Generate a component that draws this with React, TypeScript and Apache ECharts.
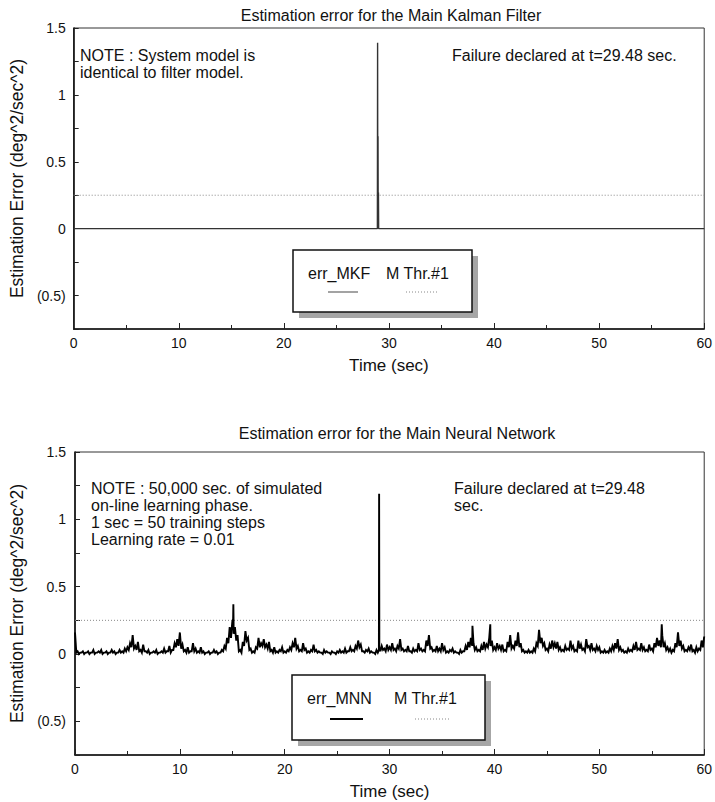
import React, { useEffect, useRef } from "react";
import * as echarts from "echarts";

// ---------- texts ----------
const TOP_TITLE = "Estimation error for the Main Kalman Filter";
const BOTTOM_TITLE = "Estimation error for the Main Neural Network";
const Y_NAME = "Estimation Error (deg^2/sec^2)";
const X_NAME = "Time (sec)";
const TOP_NOTE = ["NOTE : System model is", "identical to filter model."];
const TOP_FAIL = ["Failure declared at t=29.48 sec."];
const BOTTOM_NOTE = [
  "NOTE : 50,000 sec. of simulated",
  "on-line learning phase.",
  "1 sec = 50 training steps",
  "Learning rate = 0.01",
];
const BOTTOM_FAIL = ["Failure declared at t=29.48", "sec."];
const TOP_SERIES = "err_MKF";
const BOTTOM_SERIES = "err_MNN";
const THR_SERIES = "M Thr.#1";

// ---------- axes ----------
const X_MIN = 0;
const X_MAX = 60;
const X_INTERVAL = 10;
const Y_MIN = -0.75;
const Y_MAX = 1.5;
const Y_LABEL_VALUES = [-0.5, 0, 0.5, 1, 1.5];
const Y_TICK_VALUES = [-0.75, -0.5, -0.25, 0, 0.25, 0.5, 0.75, 1, 1.25, 1.5];

// ---------- data ----------
const THRESHOLD = 0.25;
const thrTimes = [0, 60];

// Main Kalman filter error: zero except at the failure spike
const mkfTimes = [0, 28.9, 28.92, 28.94, 28.96, 28.98, 29.0, 29.02, 60];
const mkfValues = [0, 0, 1.39, 0, 0.69, 0, 0.27, 0, 0];

// Main neural network error: local peaks sampled every 0.25 s from t = 0
const NN_START = 0;
const NN_STEP = 0.25;
const nnPeaks = [
  0.16, 0.02, 0.01, 0.02, 0.01, 0.02, 0.01, 0.03, 0.01, 0.02, 0.03, 0.01, 0.02, 0.01, 0.03, 0.02, 0.01, 0.03, 0.02, 0.04,
  0.05, 0.08, 0.14, 0.06, 0.09, 0.03, 0.07, 0.02, 0.03, 0.01, 0.02, 0.03, 0.01, 0.02, 0.04, 0.02, 0.06, 0.03, 0.08, 0.11,
  0.16, 0.07, 0.03, 0.05, 0.02, 0.08, 0.04, 0.02, 0.05, 0.02, 0.01, 0.02, 0.01, 0.03, 0.02, 0.01, 0.03, 0.06, 0.12, 0.2,
  0.24, 0.2, 0.14, 0.03, 0.09, 0.17, 0.12, 0.04, 0.02, 0.05, 0.12, 0.08, 0.11, 0.07, 0.09, 0.03, 0.05, 0.02, 0.03, 0.05,
  0.02, 0.03, 0.05, 0.08, 0.12, 0.06, 0.03, 0.08, 0.04, 0.02, 0.03, 0.07, 0.03, 0.02, 0.01, 0.03, 0.02, 0.01, 0.02, 0.01,
  0.02, 0.03, 0.02, 0.04, 0.02, 0.05, 0.03, 0.06, 0.1, 0.07, 0.02, 0.03, 0.04, 0.02, 0.01, 0.03, 0.03, 0.06, 0.04, 0.07,
  0.05, 0.08, 0.04, 0.06, 0.11, 0.04, 0.03, 0.06, 0.02, 0.04, 0.03, 0.08, 0.04, 0.03, 0.1, 0.14, 0.05, 0.03, 0.06, 0.04,
  0.08, 0.05, 0.02, 0.03, 0.04, 0.02, 0.01, 0.03, 0.02, 0.06, 0.09, 0.12, 0.08, 0.05, 0.03, 0.06, 0.09, 0.07, 0.12, 0.1,
  0.05, 0.08, 0.06, 0.07, 0.03, 0.09, 0.14, 0.06, 0.1, 0.16, 0.08, 0.03, 0.02, 0.03, 0.02, 0.04, 0.08, 0.18, 0.12, 0.08,
  0.04, 0.07, 0.1, 0.08, 0.09, 0.05, 0.03, 0.06, 0.04, 0.1, 0.06, 0.03, 0.1, 0.07, 0.04, 0.11, 0.06, 0.08, 0.04, 0.06,
  0.05, 0.02, 0.03, 0.02, 0.04, 0.06, 0.08, 0.11, 0.05, 0.03, 0.02, 0.04, 0.03, 0.06, 0.09, 0.04, 0.08, 0.05, 0.03, 0.07,
  0.04, 0.08, 0.12, 0.1, 0.14, 0.08, 0.05, 0.04, 0.03, 0.08, 0.16, 0.1, 0.06, 0.03, 0.05, 0.07, 0.03, 0.05, 0.04, 0.1,
  0.13,
];
// local troughs, half a step after each peak (t = 0.125, 0.375, ...)
const nnTroughs = [
  0.01, 0, 0.01, 0, 0.01, 0, 0.01, 0, 0.01, 0.01, 0, 0.01, 0, 0.01, 0.01, 0, 0.01, 0.01, 0.01, 0.02,
  0.03, 0.05, 0.04, 0.03, 0.02, 0.01, 0.02, 0.01, 0, 0.01, 0.01, 0, 0.01, 0.01, 0.01, 0.02, 0.01, 0.03, 0.05, 0.06,
  0.04, 0.02, 0.01, 0.01, 0.02, 0.02, 0.01, 0.01, 0.01, 0, 0.01, 0, 0.01, 0.01, 0, 0.01, 0.02, 0.04, 0.08, 0.12,
  0.15, 0.1, 0.02, 0.01, 0.06, 0.1, 0.03, 0.01, 0.01, 0.04, 0.05, 0.06, 0.05, 0.04, 0.02, 0.01, 0.01, 0.01, 0.02, 0.01,
  0.01, 0.02, 0.03, 0.05, 0.04, 0.02, 0.02, 0.03, 0.01, 0.01, 0.02, 0.02, 0.01, 0.01, 0, 0.01, 0.01, 0, 0.01, 0,
  0.01, 0.01, 0.01, 0.01, 0.02, 0.02, 0.02, 0.04, 0.05, 0.02, 0.01, 0.02, 0.01, 0.01, 0, 0.01, 0.02, 0.03, 0.02, 0.03,
  0.03, 0.03, 0.02, 0.04, 0.03, 0.02, 0.02, 0.02, 0.01, 0.02, 0.02, 0.03, 0.02, 0.02, 0.06, 0.04, 0.02, 0.02, 0.02, 0.02,
  0.03, 0.01, 0.01, 0.02, 0.01, 0.01, 0, 0.01, 0.02, 0.03, 0.05, 0.06, 0.03, 0.02, 0.02, 0.03, 0.04, 0.05, 0.06, 0.03,
  0.03, 0.04, 0.03, 0.02, 0.02, 0.05, 0.04, 0.04, 0.06, 0.05, 0.02, 0.01, 0.01, 0.01, 0.01, 0.02, 0.06, 0.08, 0.06, 0.03,
  0.02, 0.04, 0.05, 0.04, 0.03, 0.02, 0.02, 0.03, 0.03, 0.04, 0.02, 0.02, 0.04, 0.03, 0.02, 0.05, 0.03, 0.03, 0.02, 0.03,
  0.01, 0.01, 0.01, 0.01, 0.02, 0.03, 0.04, 0.03, 0.02, 0.01, 0.01, 0.02, 0.02, 0.03, 0.03, 0.03, 0.03, 0.02, 0.02, 0.03,
  0.02, 0.05, 0.06, 0.05, 0.05, 0.03, 0.02, 0.01, 0.02, 0.05, 0.06, 0.04, 0.02, 0.02, 0.03, 0.02, 0.01, 0.02, 0.03, 0.05,
];
// narrow spikes: [time, value]
const nnSpikes = [
  [15.08, 0.26], [15.1, 0.37], [15.12, 0.25],
  [28.98, 0.03], [29.0, 1.19], [29.02, 0.05],
  [37.9, 0.21], [39.6, 0.22], [55.95, 0.22],
];

const FONT = "'Liberation Sans', Arial, Helvetica, sans-serif";

function pairs(times: number[], values: number[]) {
  return times.map((t, i) => [t, values[i]]);
}

function buildNN() {
  const d: number[][] = [];
  nnPeaks.forEach((v, i) => {
    const t = NN_START + i * NN_STEP;
    d.push([t, v]);
    if (i < nnTroughs.length) d.push([t + NN_STEP / 2, nnTroughs[i]]);
  });
  nnSpikes.forEach((p) => d.push([p[0], p[1]]));
  d.sort((a, b) => a[0] - b[0]);
  return d;
}

function yLabel(v: number) {
  if (v < 0) return "(" + Math.abs(v) + ")";
  return String(v);
}

function xAxisCfg(gridIndex: number) {
  return {
    type: "value",
    gridIndex,
    min: X_MIN,
    max: X_MAX,
    interval: X_INTERVAL,
    name: X_NAME,
    nameLocation: "middle",
    nameGap: 28,
    nameTextStyle: { fontFamily: FONT, fontSize: 17, color: "#111" },
    axisLine: { onZero: false, lineStyle: { color: "#111", width: 1.6 } },
    axisTick: { inside: true, length: 6, lineStyle: { color: "#222", width: 1 } },
    minorTick: { show: true, splitNumber: 2, length: 4, lineStyle: { color: "#222", width: 1 } },
    axisLabel: { fontFamily: FONT, fontSize: 14, color: "#111", margin: 7 },
    splitLine: { show: false },
  };
}

function yAxisCfg(gridIndex: number, nameGap: number, margin: number) {
  return {
    type: "value",
    gridIndex,
    min: Y_MIN,
    max: Y_MAX,
    name: Y_NAME,
    nameLocation: "middle",
    nameGap,
    nameTextStyle: { fontFamily: FONT, fontSize: 17.5, color: "#111" },
    axisLine: { onZero: false, lineStyle: { color: "#111", width: 1.6 } },
    axisTick: {
      inside: true,
      length: 5,
      customValues: Y_TICK_VALUES,
      lineStyle: { color: "#222", width: 1 },
    },
    axisLabel: {
      fontFamily: FONT,
      fontSize: 14,
      color: "#111",
      margin,
      customValues: Y_LABEL_VALUES,
      formatter: (v: number) => yLabel(v),
    },
    splitLine: { show: false },
  };
}

function textBlock(lines: string[], x: number, yTop: number, size: number, lh: number) {
  return {
    type: "text",
    x,
    y: yTop,
    silent: true,
    style: {
      text: lines.join("\n"),
      fontFamily: FONT,
      fontSize: size,
      lineHeight: lh,
      fill: "#111",
      align: "left",
      verticalAlign: "top",
    },
  };
}

function legendBox(
  x: number, y: number, w: number, h: number,
  name1: string, name2: string,
  t1x: number, t2x: number, textY: number,
  l1: [number, number], l2: [number, number], lineY: number,
  c1: string, w1: number
) {
  return {
    type: "group",
    silent: true,
    children: [
      { type: "rect", shape: { x: x + 6, y: y + 6, width: w, height: h }, style: { fill: "#a6a6a6" } },
      { type: "rect", shape: { x, y, width: w, height: h }, style: { fill: "#fff", stroke: "#111", lineWidth: 1.5 } },
      { type: "text", x: t1x, y: textY, style: { text: name1, fontFamily: FONT, fontSize: 16, fill: "#111", verticalAlign: "middle" } },
      { type: "text", x: t2x, y: textY, style: { text: name2, fontFamily: FONT, fontSize: 16, fill: "#111", verticalAlign: "middle" } },
      { type: "line", shape: { x1: l1[0], y1: lineY, x2: l1[1], y2: lineY }, style: { stroke: c1, lineWidth: w1 } },
      { type: "line", shape: { x1: l2[0], y1: lineY, x2: l2[1], y2: lineY }, style: { stroke: "#888", lineWidth: 1, lineDash: [1, 2] } },
    ],
  };
}

export default function App() {
  const ref = useRef<HTMLDivElement>(null);

  useEffect(() => {
    if (!ref.current) return;
    const chart = echarts.init(ref.current, undefined, { renderer: "svg" });

    const thrData = thrTimes.map((t) => [t, THRESHOLD]);

    const option = {
      animation: false,
      backgroundColor: "#fff",
      title: [
        {
          text: TOP_TITLE,
          left: 386,
          top: 2,
          textAlign: "center",
          textStyle: { fontFamily: FONT, fontSize: 16, fontWeight: "normal", color: "#111" },
        },
        {
          text: BOTTOM_TITLE,
          left: 392,
          top: 420,
          textAlign: "center",
          textStyle: { fontFamily: FONT, fontSize: 16, fontWeight: "normal", color: "#111" },
        },
      ],
      grid: [
        { left: 65, top: 28, width: 642, height: 301, show: true, borderColor: "#333", borderWidth: 1, backgroundColor: "transparent" },
        { left: 72, top: 452, width: 641, height: 303, show: true, borderColor: "#333", borderWidth: 1, backgroundColor: "transparent" },
      ],
      xAxis: [xAxisCfg(0), xAxisCfg(1)],
      yAxis: [yAxisCfg(0, 42, 8), yAxisCfg(1, 49, 9)],
      series: [
        {
          name: THR_SERIES,
          type: "line",
          xAxisIndex: 0,
          yAxisIndex: 0,
          data: thrData,
          symbol: "none",
          lineStyle: { color: "#888", width: 1, type: [1, 2] },
          z: 1,
        },
        {
          name: TOP_SERIES,
          type: "line",
          xAxisIndex: 0,
          yAxisIndex: 0,
          data: pairs(mkfTimes, mkfValues),
          symbol: "none",
          lineStyle: { color: "#333", width: 1.4 },
          z: 2,
        },
        {
          name: THR_SERIES,
          type: "line",
          xAxisIndex: 1,
          yAxisIndex: 1,
          data: thrData,
          symbol: "none",
          lineStyle: { color: "#888", width: 1, type: [1, 2] },
          z: 1,
        },
        {
          name: BOTTOM_SERIES,
          type: "line",
          xAxisIndex: 1,
          yAxisIndex: 1,
          data: buildNN(),
          symbol: "none",
          lineStyle: { color: "#000", width: 1.9, join: "miter" },
          z: 2,
        },
      ],
      graphic: [
        textBlock(TOP_NOTE, 80, 47, 16, 17),
        textBlock(TOP_FAIL, 452, 47, 16, 17),
        textBlock(BOTTOM_NOTE, 91, 480, 16, 17),
        textBlock(BOTTOM_FAIL, 454, 480, 16, 17),
        legendBox(293, 250, 179, 62, TOP_SERIES, THR_SERIES, 308, 386, 273, [328, 358], [406, 438], 292, "#666", 1.2),
        legendBox(292, 675, 193, 65, BOTTOM_SERIES, THR_SERIES, 307, 394, 698, [330, 363], [415, 450], 719, "#000", 1.8),
      ],
    };

    chart.setOption(option as any);
    return () => chart.dispose();
  }, []);

  return (
    <div
      ref={ref}
      style={{ position: "fixed", left: 0, top: 0, width: 715, height: 802, background: "#fff" }}
    />
  );
}
